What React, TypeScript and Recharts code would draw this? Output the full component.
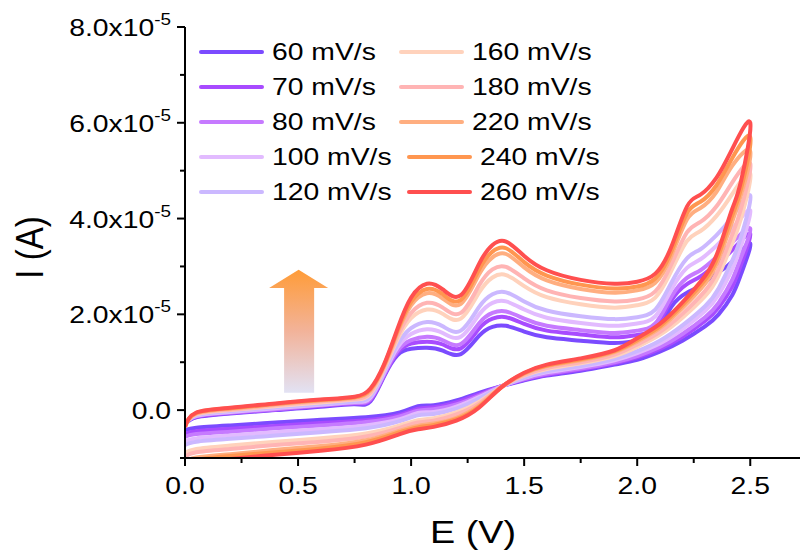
import { LineChart, Line, XAxis, YAxis, Legend, ReferenceArea, Label } from "recharts";

// potential grid (V) for the anodic sweep and the return sweep
const E_FWD = [0, 0.05, 0.2, 0.4, 0.6, 0.75, 0.82, 0.88, 0.94, 1.0, 1.07, 1.14, 1.22, 1.3, 1.36, 1.42, 1.5, 1.6, 1.75, 1.9, 2.0, 2.08, 2.15, 2.22, 2.28, 2.35, 2.42, 2.5];
const E_REV = [2.46, 2.42, 2.36, 2.3, 2.2, 2.1, 2.0, 1.9, 1.75, 1.6, 1.5, 1.4, 1.3, 1.2, 1.1, 1.03, 0.95, 0.8, 0.6, 0.4, 0.2, 0.05, 0];

// currents in units of 1e-5 A
const FWD_60 = [-0.3, -0.15, -0.07, 0.0, 0.07, 0.12, 0.18, 0.7, 1.15, 1.28, 1.3, 1.24, 1.17, 1.55, 1.74, 1.76, 1.64, 1.52, 1.45, 1.4, 1.45, 1.6, 2.15, 2.45, 2.6, 2.85, 3.1, 3.48];
const FWD_70 = [-0.3, -0.14, -0.06, 0.01, 0.09, 0.14, 0.21, 0.72, 1.2, 1.39, 1.43, 1.37, 1.29, 1.7, 1.91, 1.94, 1.8, 1.66, 1.58, 1.52, 1.57, 1.73, 2.28, 2.63, 2.79, 3.05, 3.34, 3.68];
const FWD_80 = [-0.31, -0.13, -0.05, 0.02, 0.1, 0.15, 0.23, 0.74, 1.24, 1.46, 1.53, 1.46, 1.38, 1.81, 2.03, 2.06, 1.91, 1.76, 1.67, 1.61, 1.66, 1.81, 2.36, 2.76, 2.92, 3.19, 3.5, 3.79];
const FWD_100 = [-0.31, -0.12, -0.04, 0.04, 0.11, 0.17, 0.26, 0.77, 1.31, 1.59, 1.69, 1.61, 1.53, 1.99, 2.24, 2.27, 2.1, 1.93, 1.82, 1.76, 1.81, 1.96, 2.51, 2.97, 3.15, 3.43, 3.78, 4.17];
const FWD_120 = [-0.32, -0.11, -0.02, 0.06, 0.13, 0.18, 0.29, 0.8, 1.37, 1.71, 1.84, 1.75, 1.66, 2.15, 2.42, 2.46, 2.27, 2.08, 1.96, 1.9, 1.94, 2.1, 2.65, 3.17, 3.36, 3.65, 4.04, 4.48];
const FWD_160 = [-0.33, -0.09, 0.0, 0.08, 0.16, 0.22, 0.34, 0.85, 1.48, 1.92, 2.1, 2.01, 1.91, 2.45, 2.77, 2.82, 2.59, 2.36, 2.21, 2.14, 2.19, 2.35, 2.9, 3.53, 3.74, 4.05, 4.51, 4.94];
const FWD_180 = [-0.34, -0.08, 0.01, 0.1, 0.18, 0.23, 0.37, 0.88, 1.54, 2.03, 2.24, 2.14, 2.03, 2.6, 2.94, 2.99, 2.75, 2.5, 2.34, 2.27, 2.31, 2.48, 3.03, 3.71, 3.93, 4.25, 4.75, 5.15];
const FWD_220 = [-0.34, -0.07, 0.03, 0.12, 0.2, 0.26, 0.41, 0.91, 1.62, 2.19, 2.44, 2.33, 2.22, 2.83, 3.19, 3.26, 2.98, 2.71, 2.53, 2.45, 2.5, 2.66, 3.21, 3.98, 4.22, 4.55, 5.1, 5.4];
const FWD_240 = [-0.35, -0.06, 0.04, 0.13, 0.21, 0.27, 0.43, 0.93, 1.66, 2.26, 2.53, 2.42, 2.3, 2.93, 3.31, 3.38, 3.09, 2.81, 2.62, 2.54, 2.58, 2.75, 3.3, 4.11, 4.35, 4.69, 5.26, 5.7];
const FWD_260 = [-0.35, -0.05, 0.05, 0.14, 0.22, 0.28, 0.45, 0.95, 1.7, 2.35, 2.64, 2.52, 2.4, 3.05, 3.45, 3.52, 3.22, 2.92, 2.72, 2.64, 2.68, 2.85, 3.4, 4.25, 4.5, 4.85, 5.45, 6.0];

const REV_60 = [2.85, 2.4, 2.0, 1.75, 1.45, 1.22, 1.05, 0.95, 0.82, 0.72, 0.62, 0.5, 0.36, 0.2, 0.1, 0.08, -0.05, -0.15, -0.2, -0.26, -0.32, -0.37, -0.42];
const REV_70 = [3.05, 2.58, 2.14, 1.86, 1.53, 1.28, 1.1, 0.98, 0.85, 0.74, 0.64, 0.5, 0.33, 0.16, 0.06, 0.03, -0.1, -0.21, -0.27, -0.33, -0.39, -0.44, -0.5];
const REV_80 = [3.2, 2.72, 2.24, 1.94, 1.59, 1.32, 1.13, 1.0, 0.87, 0.76, 0.65, 0.5, 0.3, 0.12, 0.02, -0.01, -0.13, -0.25, -0.32, -0.38, -0.45, -0.5, -0.56];
const REV_100 = [3.44, 2.94, 2.41, 2.07, 1.69, 1.39, 1.19, 1.04, 0.9, 0.79, 0.67, 0.49, 0.27, 0.07, -0.04, -0.06, -0.19, -0.32, -0.4, -0.46, -0.53, -0.59, -0.65];
const REV_120 = [3.63, 3.12, 2.54, 2.17, 1.77, 1.45, 1.23, 1.07, 0.92, 0.81, 0.68, 0.49, 0.24, 0.03, -0.08, -0.11, -0.23, -0.38, -0.46, -0.53, -0.6, -0.66, -0.73];
const REV_160 = [4.02, 3.48, 2.81, 2.38, 1.93, 1.57, 1.32, 1.13, 0.98, 0.86, 0.72, 0.49, 0.17, -0.05, -0.17, -0.21, -0.32, -0.49, -0.59, -0.66, -0.74, -0.81, -0.89];
const REV_180 = [4.22, 3.66, 2.95, 2.49, 2.01, 1.63, 1.37, 1.16, 1.0, 0.88, 0.73, 0.49, 0.14, -0.09, -0.22, -0.26, -0.37, -0.55, -0.66, -0.73, -0.81, -0.88, -0.97];
const REV_220 = [4.51, 3.93, 3.15, 2.64, 2.13, 1.71, 1.43, 1.21, 1.04, 0.92, 0.76, 0.48, 0.1, -0.16, -0.28, -0.33, -0.43, -0.63, -0.75, -0.83, -0.92, -0.99, -1.08];
const REV_240 = [4.64, 4.06, 3.24, 2.72, 2.19, 1.75, 1.46, 1.23, 1.06, 0.93, 0.77, 0.48, 0.07, -0.19, -0.31, -0.36, -0.46, -0.67, -0.8, -0.88, -0.96, -1.04, -1.14];
const REV_260 = [4.8, 4.2, 3.35, 2.8, 2.25, 1.8, 1.5, 1.25, 1.08, 0.95, 0.78, 0.48, 0.05, -0.22, -0.35, -0.4, -0.5, -0.72, -0.85, -0.93, -1.02, -1.1, -1.2];

const RATES = [60, 70, 80, 100, 120, 160, 180, 220, 240, 260];
const FWD = [FWD_60, FWD_70, FWD_80, FWD_100, FWD_120, FWD_160, FWD_180, FWD_220, FWD_240, FWD_260];
const REV = [REV_60, REV_70, REV_80, REV_100, REV_120, REV_160, REV_180, REV_220, REV_240, REV_260];
const COLORS = ["#7b4bff", "#a84bff", "#c67aff", "#e2bbff", "#cbb8ff", "#ffd2bc", "#ffb4b4", "#ffae80", "#ff9650", "#ff4f4f"];

// major ticks get labels, the others are minor
const X_TICKS = [0, 0.25, 0.5, 0.75, 1.0, 1.25, 1.5, 1.75, 2.0, 2.25, 2.5];
const Y_TICKS = [-1, 0, 1, 2, 3, 4, 5, 6, 7, 8];
const isMajorX = v => Math.abs(v * 2 - Math.round(v * 2)) < 1e-6;
const isMajorY = v => v % 2 === 0;

const FONT = "'Liberation Sans', Arial, sans-serif";
const STRETCH = 1.18; // the source text is a little wider than plain Arial

const series = RATES.map((r, k) => ({
    name: `${r} mV/s`,
    color: COLORS[k],
    data: [
        ...E_FWD.map((e, i) => ({ E: e, I: FWD[k][i] })),
        ...E_REV.map((e, i) => ({ E: e, I: REV[k][i] }))
    ]
}));

const YTick = (props) => {
    const { x, y, payload } = props;
    const v = payload.value;
    const major = isMajorY(v);
    return (
        <g>
            <line x1={x} x2={x - (major ? 8 : 5)} y1={y} y2={y} stroke="#000" strokeWidth={2} />
            {major && (
                <text transform={`translate(${x - 14},${y + 9}) scale(${STRETCH},1)`} textAnchor="end" fontFamily={FONT} fontSize={24} fill="#000">
                    {v === 0 ? "0.0" : (
                        <>
                            <tspan>{v.toFixed(1)}x10</tspan>
                            <tspan dy={-11} fontSize={16}>-5</tspan>
                        </>
                    )}
                </text>
            )}
        </g>
    );
};

const XTick = (props) => {
    const { x, y, payload } = props;
    const v = payload.value;
    const major = isMajorX(v);
    return (
        <g>
            <line x1={x} x2={x} y1={y} y2={y + (major ? 8 : 5)} stroke="#000" strokeWidth={2} />
            {major && (
                <text transform={`translate(${x},${y + 36}) scale(${STRETCH},1)`} textAnchor="middle" fontFamily={FONT} fontSize={24} fill="#000">
                    {v.toFixed(1)}
                </text>
            )}
        </g>
    );
};

const Arrow = (props) => {
    const { x, y, width, height } = props;
    const headH = height * 0.147;
    const s0 = x + width * 0.254;
    const s1 = x + width * 0.763;
    const pts = [
        [x + width / 2, y],
        [x + width, y + headH],
        [s1, y + headH],
        [s1, y + height],
        [s0, y + height],
        [s0, y + headH],
        [x, y + headH]
    ].map(p => p.join(",")).join(" ");
    return <polygon points={pts} fill="url(#arrowGrad)" />;
};

const LegendBox = () => (
    <div style={{ position: "relative", fontFamily: FONT, fontSize: 24, color: "#000" }}>
        {series.map((s, k) => {
            const col = k < 5 ? 0 : 1;
            const row = k % 5;
            const shift = col === 1 && row > 2 ? 8 : 0;
            const left = col === 0 ? 199 : 399 + shift;
            const top = 52 + row * 35;
            return (
                <div key={s.name} style={{ position: "absolute", left, top: top - 14, height: 28, display: "flex", alignItems: "center", whiteSpace: "nowrap" }}>
                    <div style={{ width: 65, height: 4, background: s.color, borderRadius: 2, marginRight: 8 }} />
                    <span style={{ display: "inline-block", transform: `scaleX(${STRETCH})`, transformOrigin: "left center" }}>{s.name}</span>
                </div>
            );
        })}
    </div>
);

export default function App() {
    return (
        <div style={{ position: "relative", width: 803, height: 554, background: "#fff" }}>
            <style>{`body{margin:0}`}</style>
            <LineChart width={803} height={554} margin={{ top: 27, right: 3, bottom: 0, left: 0 }}>
                <defs>
                    <linearGradient id="arrowGrad" x1="0" y1="0" x2="0" y2="1">
                        <stop offset="0%" stopColor="#ff9c38" />
                        <stop offset="50%" stopColor="#f2b39a" />
                        <stop offset="100%" stopColor="#e2e2f4" />
                    </linearGradient>
                </defs>
                <XAxis dataKey="E" type="number" domain={[0, 2.72]} allowDataOverflow ticks={X_TICKS} interval={0}
                    height={96} tick={<XTick />} tickLine={false} tickSize={0} tickMargin={0}
                    axisLine={{ stroke: "#000", strokeWidth: 2 }}>
                    <Label content={() => (
                        <text transform={`translate(473,543) scale(${STRETCH},1)`} textAnchor="middle" fontFamily={FONT} fontSize={32} fill="#000">E (V)</text>
                    )} />
                </XAxis>
                <YAxis type="number" domain={[-1, 8]} allowDataOverflow ticks={Y_TICKS} interval={0}
                    width={185} tick={<YTick />} tickLine={false} tickSize={0} tickMargin={0}
                    axisLine={{ stroke: "#000", strokeWidth: 2 }}>
                    <Label content={({ viewBox }) => (
                        <text transform={`translate(43, ${viewBox.y + viewBox.height / 2 + 5}) scale(${STRETCH},1) rotate(-90)`} textAnchor="middle" fontFamily={FONT} fontSize={33} fill="#000">I (A)</text>
                    )} />
                </YAxis>
                <ReferenceArea x1={0.372} x2={0.633} y1={0.36} y2={2.93} shape={<Arrow />} ifOverflow="visible" />
                {series.map(s => (
                    <Line key={s.name} name={s.name} data={s.data} dataKey="I" type="natural" stroke={s.color}
                        strokeWidth={4} dot={false} activeDot={false} isAnimationActive={false} />
                ))}
                <Legend layout="horizontal" verticalAlign="middle" align="center" content={<LegendBox />}
                    wrapperStyle={{ position: "absolute", top: 0, left: 0, width: 803, height: 0 }} />
            </LineChart>
        </div>
    );
}
